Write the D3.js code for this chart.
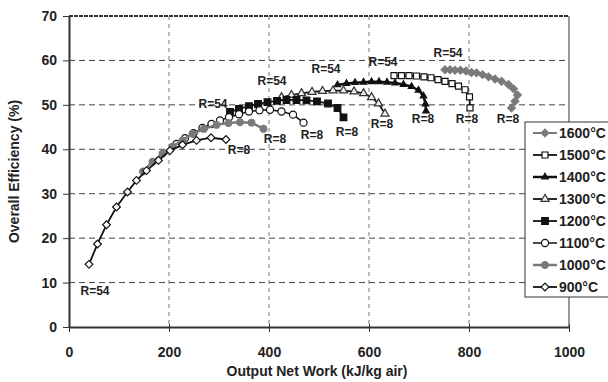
<!DOCTYPE html>
<html>
<head>
<meta charset="utf-8">
<script src="https://cdn.jsdelivr.net/npm/d3@7"></script>
<style>
  body { margin: 0; background: #fff; }
  svg text { font-family: "Liberation Sans", Arial, sans-serif; font-weight: bold; fill: #222; }
</style>
</head>
<body>
<div id="chart"></div>
<script>
// series names (legend order, also drawing order)
const temps = ["1600°C", "1500°C", "1400°C", "1300°C", "1200°C", "1100°C", "1000°C", "900°C"];

// output net work (kJ/kg air) and overall efficiency (%), R=54 -> R=8
const work1600 = [752, 762, 772, 783, 794, 805, 815, 827, 839, 852, 865, 879, 889, 897, 892, 885];
const eff1600  = [57.9, 57.9, 57.8, 57.8, 57.6, 57.3, 57.2, 56.8, 56.3, 55.8, 55.3, 54.6, 53.6, 52.2, 50.8, 49.3];
const work1500 = [650, 665, 680, 695, 710, 724, 738, 752, 766, 779, 792, 801, 802];
const eff1500  = [56.6, 56.6, 56.6, 56.5, 56.3, 56.1, 55.7, 55.3, 54.8, 54.2, 53.4, 51.8, 49.3];
const work1400 = [537, 555, 572, 589, 605, 620, 636, 652, 669, 685, 699, 709, 713, 714];
const eff1400  = [54.5, 54.8, 55.0, 55.1, 55.2, 55.2, 55.1, 54.9, 54.6, 54.1, 53.3, 52.0, 50.2, 48.6];
const work1300 = [425, 445, 465, 486, 507, 528, 549, 570, 589, 605, 619, 632];
const eff1300  = [51.7, 52.2, 52.6, 52.9, 53.1, 53.2, 53.2, 53.0, 52.6, 51.7, 50.3, 48.0];
const work1200 = [322, 340, 360, 378, 397, 416, 435, 455, 475, 496, 518, 537, 549];
const eff1200  = [48.4, 49.1, 49.7, 50.2, 50.6, 50.9, 51.1, 51.1, 51.0, 50.8, 50.3, 49.3, 47.2];
const work1100 = [215, 232, 249, 267, 285, 302, 320, 340, 360, 381, 402, 425, 448, 469];
const eff1100  = [41.2, 42.5, 43.6, 44.8, 45.7, 46.5, 47.2, 47.9, 48.5, 48.8, 48.9, 48.5, 47.8, 46.0];
const work1000 = [148, 167, 187, 207, 227, 247, 270, 295, 319, 342, 365, 389];
const eff1000  = [35.0, 37.2, 39.0, 40.6, 42.0, 43.5, 44.6, 45.5, 45.9, 46.1, 46.0, 44.6];
const work900  = [40, 57, 75, 95, 117, 135, 155, 179, 202, 227, 255, 284, 314];
const eff900   = [14.1, 18.7, 23.0, 27.0, 30.4, 33.0, 35.2, 37.5, 39.7, 41.0, 42.0, 42.6, 42.2];

// R labels: [work, efficiency] of the label centre
const labelR54 = [[52, 8.1], [288, 50.3], [406, 55.5], [514, 58.2], [628, 59.7], [758, 61.8]];
const labelR8  = [[340, 39.9], [412, 42.4], [486, 43.3], [556, 44.0], [626, 45.8], [708, 46.9], [796, 46.9], [878, 46.9]];

const xTicks = [0, 200, 400, 600, 800, 1000];
const yTicks = [0, 10, 20, 30, 40, 50, 60, 70];

const works = [work1600, work1500, work1400, work1300, work1200, work1100, work1000, work900];
const effs  = [eff1600, eff1500, eff1400, eff1300, eff1200, eff1100, eff1000, eff900];

const styles = [
  { line: "#7a7a7a", lw: 2,   shape: "diamond",  size: 30, fill: "#7a7a7a", stroke: "#7a7a7a" },
  { line: "#111",    lw: 1.8, shape: "square",   size: 36, fill: "#fff",    stroke: "#111" },
  { line: "#111",    lw: 2.5, shape: "triangle", size: 18, fill: "#111",    stroke: "#111" },
  { line: "#111",    lw: 1.8, shape: "triangle", size: 28, fill: "#eee",    stroke: "#333" },
  { line: "#111",    lw: 1.8, shape: "square",   size: 44, fill: "#111",    stroke: "#111" },
  { line: "#111",    lw: 1.5, shape: "circle",   size: 40, fill: "#fff",    stroke: "#111" },
  { line: "#7a7a7a", lw: 2.5, shape: "circle",   size: 36, fill: "#7a7a7a", stroke: "#7a7a7a" },
  { line: "#111",    lw: 1.8, shape: "diamond",  size: 30, fill: "#fff",    stroke: "#111" }
];

const series = temps.map((t, i) => ({
  name: t,
  style: styles[i],
  points: works[i].map((w, j) => ({ w: w, e: effs[i][j] }))
}));

const W = 608, H = 382;
const margin = { top: 16, right: 39, bottom: 55, left: 69 };
const width = W - margin.left - margin.right,
  height = H - margin.top - margin.bottom;

const svg = d3.select("#chart").append("svg")
  .attr("width", W)
  .attr("height", H);

const x = d3.scaleLinear().domain([0, 1000]).range([0, width]);
const y = d3.scaleLinear().domain([0, 70]).range([height, 0]);

const g = svg.append("g")
  .attr("transform", "translate(" + margin.left + "," + margin.top + ")");

// grid
g.selectAll(".hgrid")
  .data(yTicks.filter(d => d > 0))
  .enter().append("line")
  .attr("x1", 0).attr("x2", width)
  .attr("y1", d => y(d)).attr("y2", d => y(d))
  .attr("stroke", d => d === 70 ? "#333" : "#444")
  .attr("stroke-width", d => d === 70 ? 2 : 1)
  .attr("stroke-dasharray", d => d === 70 ? "4,1" : "6,4");

g.selectAll(".vgrid")
  .data(xTicks.filter(d => d > 0 && d < 1000))
  .enter().append("line")
  .attr("x1", d => x(d)).attr("x2", d => x(d))
  .attr("y1", 0).attr("y2", height)
  .attr("stroke", "#777")
  .attr("stroke-dasharray", "4,4");

// right border
g.append("line")
  .attr("x1", width).attr("x2", width)
  .attr("y1", 0).attr("y2", height)
  .attr("stroke", "#333");

// axes
const xAxis = g.append("g")
  .attr("transform", "translate(0," + height + ")")
  .call(d3.axisBottom(x).tickValues(xTicks).tickFormat(d3.format("d")).tickSizeOuter(0).tickSizeInner(5).tickPadding(15));
xAxis.selectAll(".tick").append("line").attr("y2", -3).attr("stroke", "#333");

const yAxis = g.append("g")
  .call(d3.axisLeft(y).tickValues(yTicks).tickFormat(d3.format("d")).tickSizeOuter(0).tickSizeInner(6).tickPadding(6));

[xAxis, yAxis].forEach(a => {
  a.select(".domain").attr("stroke", "#333").attr("stroke-width", 2);
  a.selectAll(".tick line").attr("stroke", "#333");
  a.selectAll("text").style("font-size", "14px").attr("fill", "#222");
});

// symbol helper
function symbolPath(st) {
  const types = { diamond: d3.symbolSquare, square: d3.symbolSquare, triangle: d3.symbolTriangle, circle: d3.symbolCircle };
  return d3.symbol().type(types[st.shape]).size(st.size)();
}

const line = d3.line().x(d => x(d.w)).y(d => y(d.e));

series.forEach(s => {
  const sg = g.append("g");
  sg.append("path")
    .datum(s.points)
    .attr("d", line)
    .attr("fill", "none")
    .attr("stroke", s.style.line)
    .attr("stroke-width", s.style.lw);
  sg.selectAll("path.pt")
    .data(s.points)
    .enter().append("path")
    .attr("class", "pt")
    .attr("d", symbolPath(s.style))
    .attr("transform", d => "translate(" + x(d.w) + "," + y(d.e) + ")" + (s.style.shape === "diamond" ? " rotate(45)" : ""))
    .attr("fill", s.style.fill)
    .attr("stroke", s.style.stroke)
    .attr("stroke-width", 1.2);
});

// R labels
g.selectAll(".r54")
  .data(labelR54)
  .enter().append("text")
  .attr("x", d => x(d[0])).attr("y", d => y(d[1]))
  .attr("dy", "0.35em")
  .attr("text-anchor", "middle")
  .style("font-size", "12px")
  .attr("fill", "#333")
  .text("R=54");

g.selectAll(".r8")
  .data(labelR8)
  .enter().append("text")
  .attr("x", d => x(d[0])).attr("y", d => y(d[1]))
  .attr("dy", "0.35em")
  .attr("text-anchor", "middle")
  .style("font-size", "12px")
  .attr("fill", "#333")
  .text("R=8");

// axis titles
svg.append("text")
  .attr("x", margin.left + width / 2 - 2)
  .attr("y", 376)
  .attr("text-anchor", "middle")
  .style("font-size", "14px")
  .text("Output Net Work (kJ/kg air)");

svg.append("text")
  .attr("transform", "translate(19," + (margin.top + height / 2) + ") rotate(-90)")
  .attr("text-anchor", "middle")
  .style("font-size", "14px")
  .text("Overall Efficiency (%)");

// legend
const legend = svg.append("g").attr("transform", "translate(525,122)");
legend.append("rect")
  .attr("x", 0).attr("y", 0)
  .attr("width", 95).attr("height", 175)
  .attr("fill", "#fff")
  .attr("stroke", "#333");

const items = legend.selectAll(".item")
  .data(series)
  .enter().append("g")
  .attr("transform", (d, i) => "translate(0," + (11 + i * 22) + ")");

items.append("line")
  .attr("x1", 8).attr("x2", 32)
  .attr("stroke", d => d.style.line)
  .attr("stroke-width", d => d.style.lw);
items.append("path")
  .attr("d", d => symbolPath(d.style))
  .attr("transform", d => "translate(20,0)" + (d.style.shape === "diamond" ? " rotate(45)" : ""))
  .attr("fill", d => d.style.fill)
  .attr("stroke", d => d.style.stroke)
  .attr("stroke-width", 1.2);
items.append("text")
  .attr("x", 34)
  .attr("dy", "0.36em")
  .style("font-size", "14px")
  .text(d => d.name);
</script>
</body>
</html>
